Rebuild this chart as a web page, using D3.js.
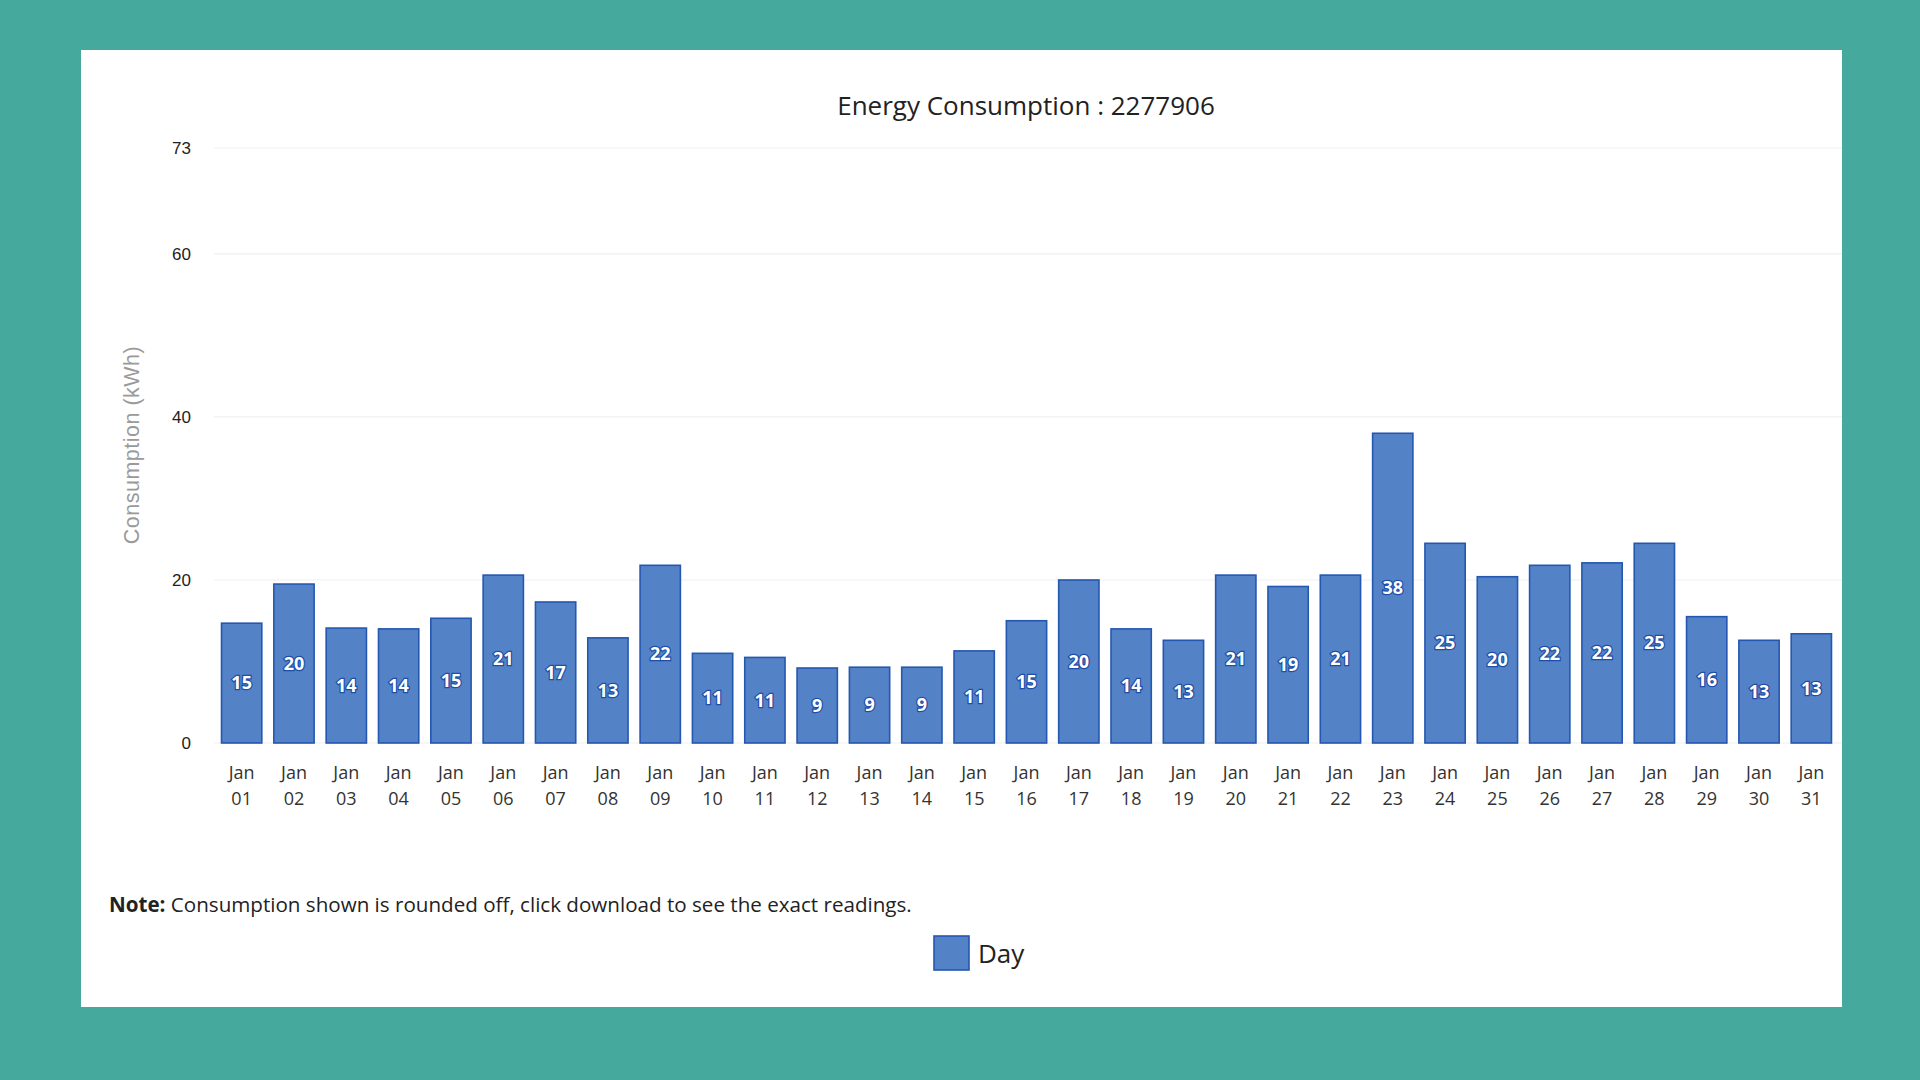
<!DOCTYPE html>
<html>
<head>
<meta charset="utf-8">
<script src="https://cdn.jsdelivr.net/npm/d3@7"></script>
<style>
  html, body { margin: 0; padding: 0; background: #46a99d; }
  svg { display: block; }
</style>
</head>
<body>
<svg id="chart" width="1920" height="1080"></svg>
<script>
const categories = ["Jan 01","Jan 02","Jan 03","Jan 04","Jan 05","Jan 06","Jan 07","Jan 08","Jan 09","Jan 10",
  "Jan 11","Jan 12","Jan 13","Jan 14","Jan 15","Jan 16","Jan 17","Jan 18","Jan 19","Jan 20",
  "Jan 21","Jan 22","Jan 23","Jan 24","Jan 25","Jan 26","Jan 27","Jan 28","Jan 29","Jan 30","Jan 31"];
const dayValues = [14.7,19.5,14.1,14.0,15.3,20.6,17.3,12.9,21.8,11.0,
  10.5,9.2,9.3,9.3,11.3,15.0,20.0,14.0,12.6,20.6,
  19.2,20.6,38.0,24.5,20.4,21.8,22.1,24.5,15.5,12.6,13.4];
const yTicks = [0,20,40,60,73];
const yMax = 73;
const titleText = "Energy Consumption : 2277906";
const yAxisTitle = "Consumption (kWh)";
const seriesName = "Day";

const svg = d3.select("#chart");

// white panel
svg.append("rect").attr("x",81).attr("y",50).attr("width",1761).attr("height",957).attr("fill","#ffffff");

const x = d3.scaleBand().domain(categories).range([215.5,1837.5]).paddingInner(0.23).paddingOuter(0.115);
const y = d3.scaleLinear().domain([0,yMax]).range([743,148]);

// gridlines
svg.append("g").selectAll("line").data(yTicks).join("line")
  .attr("x1",214).attr("x2",1842)
  .attr("y1",d=>y(d)).attr("y2",d=>y(d))
  .attr("stroke","#f0f0f0").attr("stroke-width",1.2);

// y axis
const yAxis = svg.append("g").attr("transform","translate(194,0)")
  .call(d3.axisLeft(y).tickValues(yTicks).tickSize(0).tickPadding(3));
yAxis.select(".domain").remove();
yAxis.selectAll("text").attr("font-family","'Liberation Sans', Arial, sans-serif")
  .attr("font-size",17).attr("fill","#222").attr("dy","0.35em");

// y axis title
svg.append("text").attr("transform","translate(139,445) rotate(-90)")
  .attr("text-anchor","middle").attr("font-family","'Liberation Sans', Arial, sans-serif")
  .attr("font-size",21.5).attr("fill","#9a9a9a").attr("letter-spacing",0.5).text(yAxisTitle);

// x axis
const xAxis = svg.append("g").attr("transform","translate(0,743)")
  .call(d3.axisBottom(x).tickSize(0).tickPadding(0));
xAxis.select(".domain").remove();
xAxis.selectAll("text").each(function(d){
  const parts = d.split(" ");
  const t = d3.select(this).text(null).attr("font-family","'Open Sans', sans-serif")
    .attr("font-size",18).attr("fill","#333").attr("dy",0);
  t.append("tspan").attr("x",0).attr("y",36).text(parts[0]);
  t.append("tspan").attr("x",0).attr("y",62).text(parts[1]);
});

// bars
svg.append("g").selectAll("rect").data(dayValues).join("rect")
  .attr("x",(d,i)=>x(categories[i]))
  .attr("y",d=>y(d))
  .attr("width",x.bandwidth())
  .attr("height",d=>y(0)-y(d))
  .attr("fill","#5383c6")
  .attr("stroke","#2457b0").attr("stroke-width",1.6);

// bar labels
svg.append("g").selectAll("text").data(dayValues).join("text")
  .attr("x",(d,i)=>x(categories[i])+x.bandwidth()/2)
  .attr("y",d=>(y(d)+y(0))/2)
  .attr("dy","0.35em")
  .attr("text-anchor","middle")
  .attr("font-family","'Open Sans', sans-serif").attr("font-weight","bold")
  .attr("font-size",18).attr("fill","#ffffff")
  .attr("stroke","#1e4ea8").attr("stroke-width",2.5).attr("paint-order","stroke")
  .text(d=>Math.round(d));

// title
svg.append("text").attr("x",1026).attr("y",115).attr("text-anchor","middle")
  .attr("font-family","'Open Sans', sans-serif").attr("font-size",26).attr("fill","#222")
  .text(titleText);

// note
const note = svg.append("text").attr("x",109).attr("y",912)
  .attr("font-family","'Open Sans', sans-serif").attr("font-size",20.6).attr("fill","#222");
note.append("tspan").attr("font-weight","bold").text("Note:");
note.append("tspan").text(" Consumption shown is rounded off, click download to see the exact readings.");

// legend
svg.append("rect").attr("x",934).attr("y",936).attr("width",35).attr("height",34)
  .attr("fill","#5383c6").attr("stroke","#2457b0").attr("stroke-width",1.6);
svg.append("text").attr("x",978).attr("y",963)
  .attr("font-family","'Open Sans', sans-serif").attr("font-size",26).attr("fill","#222")
  .text(seriesName);
</script>
</body>
</html>
